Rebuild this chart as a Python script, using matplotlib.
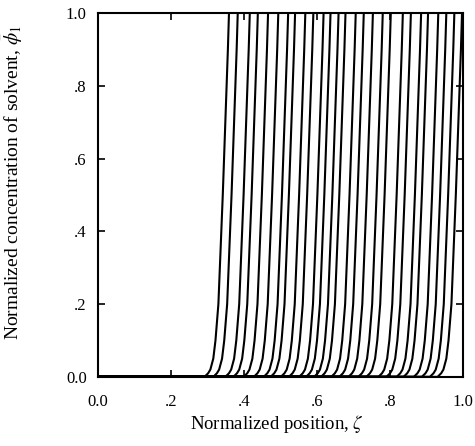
import matplotlib
matplotlib.use("Agg")
import matplotlib.pyplot as plt
import numpy as np

plt.rcParams['font.family'] = ['Liberation Serif', 'DejaVu Serif']
plt.rcParams['mathtext.fontset'] = 'stix'

# front positions (zeta at phi = 0.5)
front_pos = [0.342, 0.366, 0.399, 0.421, 0.449, 0.477, 0.504, 0.523, 0.551,
             0.573, 0.601, 0.620, 0.642, 0.661, 0.689, 0.711, 0.736, 0.763,
             0.785, 0.818, 0.840, 0.868, 0.887, 0.915, 0.937, 0.959, 0.980]

# shape of one front: offset in zeta from the mid point, per concentration level
profile_phi = [0.0, 0.01, 0.02, 0.05, 0.1, 0.2, 0.3, 0.5, 0.7, 0.9, 1.0]
profile_dx = [-0.050, -0.040, -0.034, -0.026, -0.020, -0.012, -0.008, 0.0,
              0.007, 0.014, 0.017]

xticks = [0.0, 0.2, 0.4, 0.6, 0.8, 1.0]
xticklabels = ['0.0', '.2', '.4', '.6', '.8', '1.0']
yticks = [0.0, 0.2, 0.4, 0.6, 0.8, 1.0]
yticklabels = ['0.0', '.2', '.4', '.6', '.8', '1.0']

fig = plt.figure(figsize=(4.75, 4.46), dpi=100)
ax = fig.add_axes([0.206, 0.155, 0.769, 0.816])

for x0 in front_pos:
    xs = [0.0, x0 + profile_dx[0]] + [x0 + d for d in profile_dx] + [x0 + profile_dx[-1], 1.0]
    ys = [0.0, 0.0] + profile_phi + [1.0, 1.0]
    ax.plot(xs, ys, color='black', lw=1.5, solid_joinstyle='round')

ax.set_xlim(0, 1)
ax.set_ylim(0, 1)
ax.set_xticks(xticks)
ax.set_xticklabels(xticklabels)
ax.set_yticks(yticks)
ax.set_yticklabels(yticklabels)
ax.tick_params(direction='in', top=True, right=True, length=5, width=1.2,
               labelsize=12)
ax.tick_params(axis='x', pad=12)
ax.tick_params(axis='y', pad=8)
for s in ax.spines.values():
    s.set_linewidth(1.5)

ax.set_xlabel(r'Normalized position, $\zeta$', fontsize=13.5)
ax.set_ylabel(r'Normalized concentration of solvent, $\bar{\phi}_1$',
              fontsize=14)
ax.xaxis.set_label_coords(0.49, -0.1)
ax.yaxis.set_label_coords(-0.2, 0.534)

fig.savefig('out.png', dpi=100)
